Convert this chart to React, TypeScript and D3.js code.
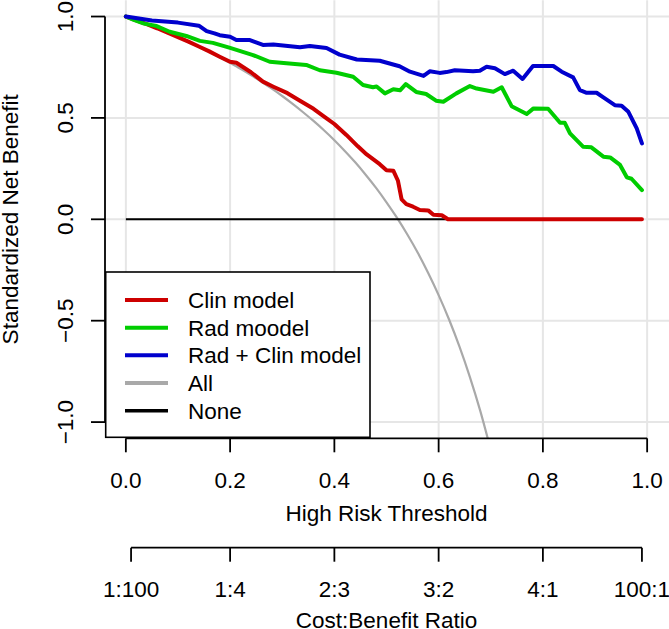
import React from "react";
import * as d3 from "d3";

// ---- Data ----
const clinT = [0, 0.02, 0.04, 0.06, 0.08, 0.10, 0.12, 0.14, 0.16, 0.18, 0.20, 0.212, 0.24, 0.263, 0.283, 0.31, 0.334, 0.36, 0.385, 0.40, 0.423, 0.445, 0.462, 0.487, 0.50, 0.513, 0.522, 0.529, 0.538, 0.551, 0.564, 0.58, 0.59, 0.606, 0.618, 0.99];
const clinV = [1.0, 0.981, 0.962, 0.942, 0.92, 0.898, 0.876, 0.852, 0.828, 0.802, 0.777, 0.772, 0.725, 0.679, 0.654, 0.622, 0.585, 0.545, 0.498, 0.47, 0.416, 0.36, 0.32, 0.272, 0.242, 0.24, 0.19, 0.098, 0.075, 0.062, 0.046, 0.044, 0.022, 0.02, 0, 0];

const radT = [0, 0.014, 0.035, 0.059, 0.084, 0.116, 0.142, 0.167, 0.20, 0.244, 0.276, 0.308, 0.346, 0.372, 0.404, 0.436, 0.455, 0.474, 0.481, 0.497, 0.513, 0.526, 0.537, 0.557, 0.576, 0.595, 0.609, 0.634, 0.660, 0.673, 0.705, 0.721, 0.740, 0.769, 0.782, 0.810, 0.833, 0.842, 0.852, 0.877, 0.893, 0.916, 0.929, 0.948, 0.961, 0.970, 0.99];
const radV = [1.0, 0.985, 0.965, 0.953, 0.925, 0.904, 0.88, 0.87, 0.845, 0.81, 0.777, 0.769, 0.761, 0.735, 0.723, 0.703, 0.662, 0.651, 0.655, 0.621, 0.641, 0.636, 0.667, 0.628, 0.618, 0.585, 0.58, 0.621, 0.657, 0.645, 0.629, 0.651, 0.558, 0.519, 0.547, 0.545, 0.476, 0.476, 0.424, 0.358, 0.355, 0.309, 0.305, 0.268, 0.207, 0.2, 0.144];

const bothT = [0, 0.05, 0.10, 0.14, 0.155, 0.17, 0.18, 0.20, 0.212, 0.238, 0.263, 0.283, 0.334, 0.353, 0.385, 0.41, 0.443, 0.487, 0.525, 0.545, 0.571, 0.583, 0.602, 0.615, 0.631, 0.666, 0.679, 0.692, 0.708, 0.727, 0.743, 0.761, 0.781, 0.820, 0.836, 0.858, 0.871, 0.884, 0.903, 0.916, 0.938, 0.951, 0.964, 0.980, 0.99];
const bothV = [1.0, 0.98, 0.97, 0.955, 0.928, 0.917, 0.908, 0.90, 0.884, 0.884, 0.86, 0.862, 0.848, 0.855, 0.845, 0.812, 0.788, 0.782, 0.755, 0.728, 0.707, 0.73, 0.722, 0.726, 0.735, 0.73, 0.733, 0.752, 0.745, 0.716, 0.733, 0.692, 0.756, 0.756, 0.728, 0.70, 0.637, 0.624, 0.624, 0.601, 0.563, 0.56, 0.53, 0.448, 0.374];

const allT = [0, 0.02, 0.04, 0.06, 0.08, 0.10, 0.12, 0.14, 0.16, 0.18, 0.20, 0.22, 0.24, 0.26, 0.28, 0.30, 0.32, 0.34, 0.36, 0.38, 0.40, 0.42, 0.44, 0.46, 0.48, 0.50, 0.52, 0.54, 0.56, 0.58, 0.60, 0.62, 0.64, 0.66, 0.68, 0.70];
const allV = [1.0, 0.981, 0.962, 0.942, 0.920, 0.898, 0.875, 0.851, 0.826, 0.799, 0.771, 0.742, 0.711, 0.678, 0.644, 0.608, 0.569, 0.528, 0.485, 0.439, 0.390, 0.337, 0.281, 0.220, 0.155, 0.084, 0.008, -0.075, -0.165, -0.265, -0.374, -0.494, -0.628, -0.778, -0.946, -1.137];

const noneT = [0, 0.99];
const noneV = [0, 0];

const xTicks = [0, 0.2, 0.4, 0.6, 0.8, 1.0];
const xTickLabels = ["0.0", "0.2", "0.4", "0.6", "0.8", "1.0"];
const yTicks = [-1, -0.5, 0, 0.5, 1];
const yTickLabels = ["\u22121.0", "\u22120.5", "0.0", "0.5", "1.0"];
const cbTicks = [0.01, 0.2, 0.4, 0.6, 0.8, 0.99];
const cbLabels = ["1:100", "1:4", "2:3", "3:2", "4:1", "100:1"];

const legendNames = ["Clin model", "Rad moodel", "Rad + Clin model", "All", "None"];
const legendColors = ["#CD0000", "#00CD00", "#0000CD", "#A9A9A9", "#000000"];

const W = 669;
const H = 629;
const FONT = "'Liberation Sans', Arial, Helvetica, sans-serif";
const FS = 22.5;

export default function App() {
  const left = 105, right = 668, top = 0.3, bottom = 438.3;
  const x = d3.scaleLinear().domain([-0.04, 1.04]).range([left, right]);
  const y = d3.scaleLinear().domain([-1.08, 1.08]).range([bottom, top]);

  const mk = (ts: number[], vs: number[], curve: any = d3.curveLinear) =>
    d3.line<number>().x((_, i) => x(ts[i])).y((v) => y(v)).curve(curve)(vs) || "";

  const series = [
    { d: mk(allT, allV, d3.curveMonotoneX), color: legendColors[3], w: 2.2 },
    { d: mk(noneT, noneV), color: legendColors[4], w: 2 },
    { d: mk(clinT, clinV), color: legendColors[0], w: 4 },
    { d: mk(radT, radV), color: legendColors[1], w: 4 },
    { d: mk(bothT, bothV), color: legendColors[2], w: 4 },
  ];

  const gridColor = "#E6E6E6";
  const legX0 = 105.7, legX1 = 370, legY0 = 272, legY1 = 437.3;
  const rowY = [300, 327.7, 355.3, 383, 410.7];
  const centerX = (left + right) / 2;
  const cbY = 547.7;

  return (
    <svg
      width={W}
      height={H}
      style={{ position: "absolute", left: 0, top: 0, background: "#fff" }}
      fontFamily={FONT}
      fontSize={FS}
    >
      <rect x={0} y={0} width={W} height={H} fill="#fff" />
      <defs>
        <clipPath id="plotclip">
          <rect x={left} y={top} width={right - left} height={bottom - top} />
        </clipPath>
      </defs>

      {/* grid */}
      <g stroke={gridColor} strokeWidth={2}>
        {xTicks.map((t) => (
          <line key={"gx" + t} x1={x(t)} x2={x(t)} y1={top} y2={bottom} />
        ))}
        {yTicks.map((v) => (
          <line key={"gy" + v} x1={left} x2={W} y1={y(v)} y2={y(v)} />
        ))}
      </g>

      {/* series */}
      <g clipPath="url(#plotclip)" fill="none" strokeLinejoin="round" strokeLinecap="round">
        {series.map((s, i) => (
          <path key={i} d={s.d} stroke={s.color} strokeWidth={s.w} strokeLinecap={i === 1 ? "butt" : "round"} />
        ))}
      </g>

      {/* legend */}
      <rect x={legX0} y={legY0} width={legX1 - legX0} height={legY1 - legY0} fill="#fff" stroke="#000" strokeWidth={1.6} />
      {legendNames.map((n, i) => (
        <g key={n}>
          <line x1={125} x2={168} y1={rowY[i]} y2={rowY[i]} stroke={legendColors[i]} strokeWidth={i === 4 ? 3.5 : 4} />
          <text x={188} y={rowY[i] + 8}>{n}</text>
        </g>
      ))}

      {/* y axis */}
      <line x1={left} x2={left} y1={y(1)} y2={y(-1)} stroke="#000" strokeWidth={1.8} />
      {yTicks.map((v, i) => (
        <g key={"yt" + v}>
          <line x1={left - 14} x2={left} y1={y(v)} y2={y(v)} stroke="#000" strokeWidth={1.8} />
          <text transform={`translate(73,${y(v)}) rotate(-90)`} textAnchor="middle">
            {yTickLabels[i]}
          </text>
        </g>
      ))}
      <text transform={`translate(18.3,${(top + bottom) / 2}) rotate(-90)`} textAnchor="middle">
        Standardized Net Benefit
      </text>

      {/* x axis */}
      <line x1={x(0)} x2={x(1)} y1={bottom} y2={bottom} stroke="#000" strokeWidth={1.8} />
      {xTicks.map((t, i) => (
        <g key={"xt" + t}>
          <line x1={x(t)} x2={x(t)} y1={bottom} y2={bottom + 14} stroke="#000" strokeWidth={1.8} />
          <text x={x(t)} y={488.3} textAnchor="middle">{xTickLabels[i]}</text>
        </g>
      ))}
      <text x={centerX} y={520.5} textAnchor="middle">High Risk Threshold</text>

      {/* cost:benefit axis */}
      <line x1={x(cbTicks[0])} x2={x(cbTicks[cbTicks.length - 1])} y1={cbY} y2={cbY} stroke="#000" strokeWidth={1.8} />
      {cbTicks.map((t, i) => (
        <g key={"cb" + t}>
          <line x1={x(t)} x2={x(t)} y1={cbY} y2={cbY + 14} stroke="#000" strokeWidth={1.8} />
          <text x={x(t)} y={597} textAnchor="middle">{cbLabels[i]}</text>
        </g>
      ))}
      <text x={centerX} y={627.5} textAnchor="middle">Cost:Benefit Ratio</text>
    </svg>
  );
}
